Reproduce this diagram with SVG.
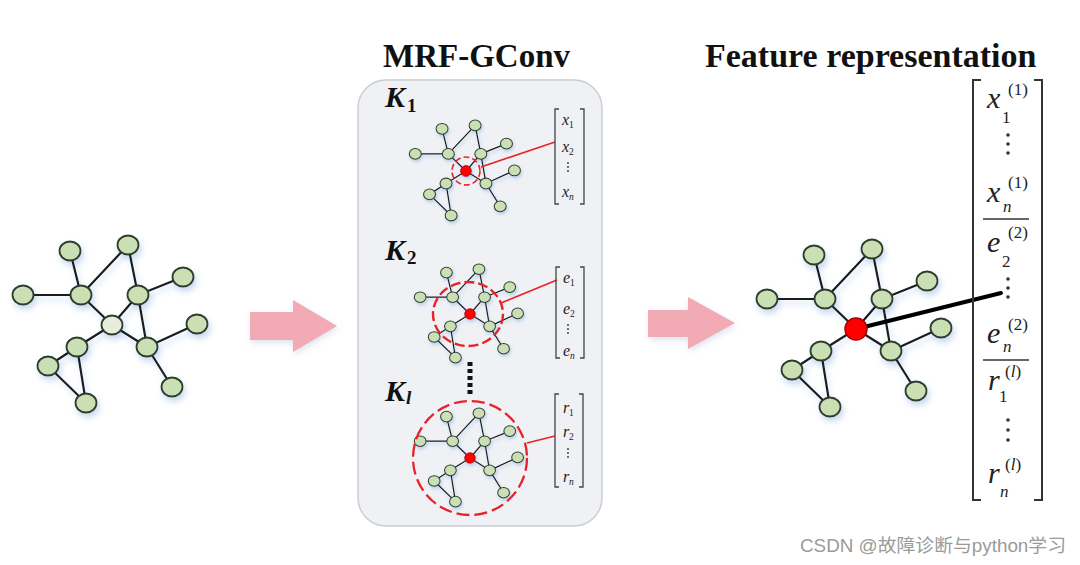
<svg xmlns="http://www.w3.org/2000/svg" xmlns:xlink="http://www.w3.org/1999/xlink" width="1080" height="565" viewBox="0 0 1080 565">
<style>
.nd{fill:#cadfb3;stroke:#2f3d2a;stroke-width:1.8}
.ed{stroke:#1a1a1a;stroke-width:2.2;stroke-linecap:round}
.title{font-family:"Liberation Serif","Times New Roman",serif;font-weight:bold;fill:#111}
.klab{font-family:"Liberation Serif","Times New Roman",serif;font-weight:bold;font-style:italic;fill:#111}
.ksub{font-family:"Liberation Serif","Times New Roman",serif;font-weight:bold;fill:#111}
.vs{font-family:"Liberation Serif","Times New Roman",serif;font-style:italic;fill:#222;font-size:16px}
.vsub{font-family:"Liberation Serif","Times New Roman",serif;fill:#222;font-size:9.5px}
.vb{font-family:"Liberation Serif","Times New Roman",serif;font-style:italic;fill:#222;font-size:30px}
.vbs{font-family:"Liberation Serif","Times New Roman",serif;fill:#222;font-size:17px}
.br{fill:none;stroke:#444;stroke-width:1.3}
.brb{fill:none;stroke:#333;stroke-width:2}
.rl{stroke:#e8222b;stroke-width:1.6;fill:none}
.rc{fill:none;stroke:#e8222b}
.red{fill:#ff0000;stroke:#a80000;stroke-width:1.5}
.arrow{fill:#f2aab4}
.dot{fill:#333}
</style>
<defs>
<filter id="sh" x="-30%" y="-30%" width="160%" height="160%">
<feDropShadow dx="2" dy="4" stdDeviation="3" flood-color="#6f9fd8" flood-opacity="0.4"/>
</filter>
<filter id="ash" x="-20%" y="-20%" width="140%" height="150%">
<feDropShadow dx="1" dy="3" stdDeviation="3" flood-color="#8aa8cc" flood-opacity="0.3"/>
</filter>
<g id="tpl">
<line class="ed" x1="-42" y1="-74" x2="-31" y2="-30"/>
<line class="ed" x1="-89" y1="-30" x2="-31" y2="-30"/>
<line class="ed" x1="-31" y1="-30" x2="16" y2="-80"/>
<line class="ed" x1="-31" y1="-30" x2="0" y2="0"/>
<line class="ed" x1="16" y1="-80" x2="26" y2="-30"/>
<line class="ed" x1="26" y1="-30" x2="71" y2="-48"/>
<line class="ed" x1="26" y1="-30" x2="0" y2="0"/>
<line class="ed" x1="26" y1="-30" x2="35" y2="22"/>
<line class="ed" x1="0" y1="0" x2="35" y2="22"/>
<line class="ed" x1="0" y1="0" x2="-35" y2="22"/>
<line class="ed" x1="35" y1="22" x2="85" y2="-1"/>
<line class="ed" x1="35" y1="22" x2="60" y2="62"/>
<line class="ed" x1="-35" y1="22" x2="-64" y2="41"/>
<line class="ed" x1="-35" y1="22" x2="-26" y2="78"/>
<line class="ed" x1="-64" y1="41" x2="-26" y2="78"/>
<ellipse class="nd" cx="-42" cy="-74" rx="10.5" ry="9.5"/>
<ellipse class="nd" cx="16" cy="-80" rx="10.5" ry="9.5"/>
<ellipse class="nd" cx="-89" cy="-30" rx="10.5" ry="9.5"/>
<ellipse class="nd" cx="-31" cy="-30" rx="10.5" ry="9.5"/>
<ellipse class="nd" cx="26" cy="-30" rx="10.5" ry="9.5"/>
<ellipse class="nd" cx="71" cy="-48" rx="10.5" ry="9.5"/>
<ellipse class="nd" cx="85" cy="-1" rx="10.5" ry="9.5"/>
<ellipse class="nd" cx="-35" cy="22" rx="10.5" ry="9.5"/>
<ellipse class="nd" cx="35" cy="22" rx="10.5" ry="9.5"/>
<ellipse class="nd" cx="-64" cy="41" rx="10.5" ry="9.5"/>
<ellipse class="nd" cx="60" cy="62" rx="10.5" ry="9.5"/>
<ellipse class="nd" cx="-26" cy="78" rx="10.5" ry="9.5"/>
</g>
</defs>

<rect width="1080" height="565" fill="#ffffff"/>

<!-- titles -->
<g id="titles">
<text class="title" x="383" y="67" font-size="33">MRF-GConv</text>
<text class="title" x="705" y="67" font-size="34">Feature representation</text>
</g>

<!-- input graph -->
<g id="input-graph" transform="translate(112,325)" filter="url(#sh)">
<use href="#tpl"/>
<ellipse cx="0" cy="0" rx="10.5" ry="9.5" fill="#e6eedb" stroke="#2f3d2a" stroke-width="1.8"/>
</g>

<!-- arrows -->
<g id="arrows" filter="url(#ash)">
<polygon class="arrow" points="250,312 293,312 293,300 337,326 293,352 293,340 250,340"/>
<polygon class="arrow" points="648,310 688,310 688,297 735,323 688,349 688,337 648,337"/>
</g>

<!-- MRF-GConv panel -->
<g id="panel">
<rect x="358" y="80" width="244" height="446" rx="28" ry="28" fill="#eff1f4" stroke="#c9cdd2" stroke-width="1.5"/>
</g>

<!-- K1 -->
<g id="k1">
<text class="klab" x="385" y="107" font-size="30">K</text>
<text class="ksub" x="407" y="112" font-size="19">1</text>
<g transform="translate(466,171) scale(0.57)" filter="url(#sh)">
<use href="#tpl"/>
<circle class="red" cx="0" cy="0" r="9.5"/>
</g>
<circle class="rc" cx="466" cy="171" r="14" stroke-width="1.6" stroke-dasharray="6 3"/>
<line class="rl" x1="481" y1="167" x2="555" y2="142"/>
<path class="br" d="M559,109 H555 V204 H559 M580,109 H584 V204 H580"/>
<text class="vs" x="562" y="125">x</text><text class="vsub" x="569" y="128">1</text>
<text class="vs" x="562" y="152">x</text><text class="vsub" x="569" y="155">2</text>
<circle class="dot" cx="568" cy="163" r="0.9"/><circle class="dot" cx="568" cy="167" r="0.9"/><circle class="dot" cx="568" cy="171" r="0.9"/>
<text class="vs" x="562" y="197">x</text><text class="vsub" x="569" y="200" font-style="italic">n</text>
</g>

<!-- K2 -->
<g id="k2">
<text class="klab" x="385" y="260" font-size="30">K</text>
<text class="ksub" x="407" y="264" font-size="19">2</text>
<g transform="translate(470,314) scale(0.56)" filter="url(#sh)">
<use href="#tpl"/>
<circle class="red" cx="0" cy="0" r="9.5"/>
</g>
<ellipse class="rc" cx="468" cy="314" rx="35" ry="32" stroke-width="2.4" stroke-dasharray="10 4"/>
<line class="rl" x1="501" y1="303" x2="557" y2="280"/>
<path class="br" d="M560,267 H556 V358 H560 M580,267 H584 V358 H580"/>
<text class="vs" x="563" y="283">e</text><text class="vsub" x="570" y="286">1</text>
<text class="vs" x="563" y="314">e</text><text class="vsub" x="570" y="317">2</text>
<circle class="dot" cx="568" cy="325" r="0.9"/><circle class="dot" cx="568" cy="329" r="0.9"/><circle class="dot" cx="568" cy="333" r="0.9"/>
<text class="vs" x="563" y="356">e</text><text class="vsub" x="570" y="359" font-style="italic">n</text>
</g>

<!-- ellipsis between K2 and Kl -->
<line id="vdots" x1="470" y1="362" x2="470" y2="396" stroke="#111" stroke-width="5" stroke-dasharray="4 3"/>

<!-- Kl -->
<g id="kl">
<text class="klab" x="385" y="401" font-size="30">K</text>
<text class="klab" x="406" y="404" font-size="19">l</text>
<g transform="translate(470,458) scale(0.56)" filter="url(#sh)">
<use href="#tpl"/>
<circle class="red" cx="0" cy="0" r="9.5"/>
</g>
<circle class="rc" cx="470" cy="458" r="57" stroke-width="2.3" stroke-dasharray="13 5"/>
<line class="rl" x1="527" y1="443" x2="555" y2="436"/>
<path class="br" d="M559,394 H555 V487 H559 M579,394 H583 V487 H579"/>
<text class="vs" x="563" y="413">r</text><text class="vsub" x="569" y="416">1</text>
<text class="vs" x="563" y="437">r</text><text class="vsub" x="569" y="440">2</text>
<circle class="dot" cx="568" cy="449" r="0.9"/><circle class="dot" cx="568" cy="453" r="0.9"/><circle class="dot" cx="568" cy="457" r="0.9"/>
<text class="vs" x="563" y="482">r</text><text class="vsub" x="569" y="485" font-style="italic">n</text>
</g>

<!-- output graph -->
<g id="output-graph">
<g transform="translate(856,329)" filter="url(#sh)">
<use href="#tpl"/>
</g>
<line x1="856" y1="329" x2="1001" y2="293" stroke="#000" stroke-width="4" stroke-linecap="round"/>
<circle class="red" cx="856" cy="329" r="11"/>
</g>

<!-- feature vector -->
<g id="feature-vector">
<path class="brb" d="M981,80 H973 V500 H981 M1034,80 H1042 V500 H1034"/>
<text class="vb" x="987" y="108">x</text><text class="vbs" x="1008" y="95">(1)</text><text class="vbs" x="1002" y="123">1</text>
<circle class="dot" cx="1008" cy="135" r="1.8"/><circle class="dot" cx="1008" cy="144" r="1.8"/><circle class="dot" cx="1008" cy="153" r="1.8"/>
<text class="vb" x="987" y="202">x</text><text class="vbs" x="1008" y="188">(1)</text><text class="vbs" x="1003" y="212" font-style="italic">n</text>
<line x1="983" y1="219" x2="1029" y2="219" stroke="#333" stroke-width="1.5"/>
<text class="vb" x="987" y="252">e</text><text class="vbs" x="1008" y="238">(2)</text><text class="vbs" x="1002" y="267">2</text>
<circle class="dot" cx="1008" cy="279" r="1.8"/><circle class="dot" cx="1008" cy="288" r="1.8"/><circle class="dot" cx="1008" cy="297" r="1.8"/>
<text class="vb" x="987" y="343">e</text><text class="vbs" x="1008" y="330">(2)</text><text class="vbs" x="1003" y="352" font-style="italic">n</text>
<line x1="983" y1="360" x2="1029" y2="360" stroke="#333" stroke-width="1.5"/>
<text class="vb" x="988" y="390">r</text><text class="vbs" x="1005" y="377">(<tspan font-style="italic">l</tspan>)</text><text class="vbs" x="999" y="402">1</text>
<circle class="dot" cx="1008" cy="420" r="1.8"/><circle class="dot" cx="1008" cy="430" r="1.8"/><circle class="dot" cx="1008" cy="440" r="1.8"/>
<text class="vb" x="988" y="483">r</text><text class="vbs" x="1005" y="470">(<tspan font-style="italic">l</tspan>)</text><text class="vbs" x="1000" y="497" font-style="italic">n</text>
</g>

<!-- watermark -->
<text id="watermark" x="800" y="552" font-family="'Liberation Sans','Noto Sans CJK SC',sans-serif" font-size="18.5" fill="#9a9a9a" textLength="266" lengthAdjust="spacingAndGlyphs">CSDN @故障诊断与python学习</text>
</svg>
